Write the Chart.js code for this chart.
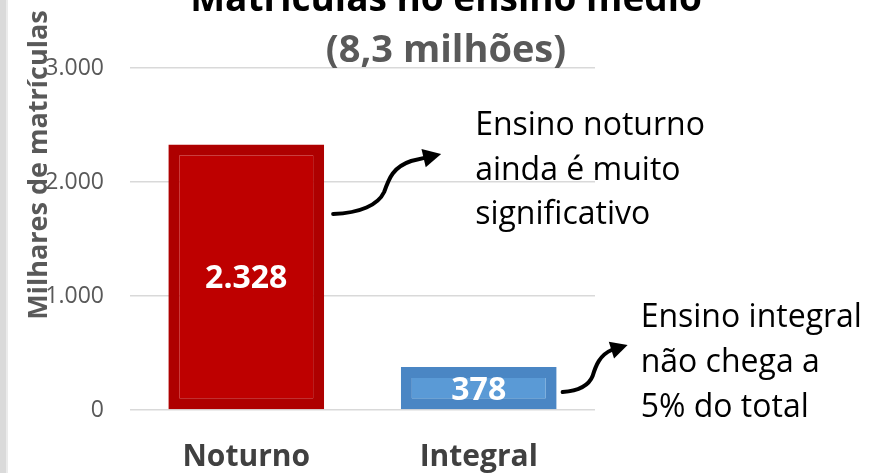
<!DOCTYPE html>
<html>
<head>
<meta charset="utf-8">
<script src="https://cdn.jsdelivr.net/npm/chart.js@4.4.0/dist/chart.umd.min.js"></script>
<style>
  html, body { margin: 0; padding: 0; background: #fff; }
  #wrap { width: 872px; height: 473px; }
</style>
</head>
<body>
<div id="wrap"><canvas id="myChart" width="872" height="473"></canvas></div>
<script>
// Data (milhares de matrículas)
var categories = ['Noturno', 'Integral'];
var values = [2328, 378];
var barColors = ['#BE0000', '#5A9AD6'];
var barBorders = ['#AE0000', '#4A86C4'];
var yTicks = [0, 1000, 2000, 3000];
var titleText = 'Matrículas no ensino médio';
var subtitleText = '(8,3 milhões)';
var yTitleText = 'Milhares de matrículas';
var noteNoturno = ['Ensino noturno', 'ainda é muito', 'significativo'];
var noteIntegral = ['Ensino integral', 'não chega a', '5% do total'];

var FONT = "'Open Sans', sans-serif";

// 2328 -> "2.328"
function fmt(v) {
    return String(v).replace(/\B(?=(\d{3})+(?!\d))/g, '.');
}

// curved arrow, points are offsets from (ox, oy)
function drawArrow(c, ox, oy, p) {
    c.save();
    c.strokeStyle = '#000';
    c.fillStyle = '#000';
    c.lineWidth = 4;
    c.lineCap = 'round';
    var tip = p.tip, from = p.seg2[2];
    var dx = tip[0] - from[0], dy = tip[1] - from[1];
    var len = Math.sqrt(dx * dx + dy * dy);
    var ux = dx / len, uy = dy / len;
    var L = p.head, W = p.head * 0.52;
    var bx = tip[0] - ux * L, by = tip[1] - uy * L;
    c.beginPath();
    c.moveTo(ox + p.start[0], oy + p.start[1]);
    c.bezierCurveTo(ox + p.seg1[0][0], oy + p.seg1[0][1], ox + p.seg1[1][0], oy + p.seg1[1][1], ox + p.seg1[2][0], oy + p.seg1[2][1]);
    c.bezierCurveTo(ox + p.seg2[0][0], oy + p.seg2[0][1], ox + p.seg2[1][0], oy + p.seg2[1][1], ox + p.seg2[2][0], oy + p.seg2[2][1]);
    c.lineTo(ox + bx + ux * 2, oy + by + uy * 2);
    c.stroke();
    c.beginPath();
    c.moveTo(ox + tip[0], oy + tip[1]);
    c.lineTo(ox + bx - uy * W, oy + by + ux * W);
    c.lineTo(ox + bx + uy * W, oy + by - ux * W);
    c.closePath();
    c.fill();
    c.restore();
}

var arrowNoturno = { start: [9, 146], seg1: [[36, 145], [54, 137], [60, 124]], seg2: [[65, 110], [69, 99], [87, 93]], tip: [117, 86], head: 18 };
var arrowIntegral = { start: [6, 324], seg1: [[20, 323], [32, 318], [36, 308]], seg2: [[39, 298], [43, 287], [55, 282]], tip: [71, 277], head: 17 };

var decor = {
    id: 'decor',
    beforeDraw: function(chart) {
        var c = chart.ctx;
        c.save();
        c.fillStyle = '#fff';
        c.fillRect(0, 0, chart.width, chart.height);
        c.fillStyle = '#DADADA';
        c.fillRect(0, 0, 6, chart.height);
        c.fillStyle = '#EBEBEB';
        c.fillRect(6, 0, 2, chart.height);
        c.restore();
    },
    afterDatasetsDraw: function(chart) {
        // value labels inside bars
        var c = chart.ctx;
        var meta = chart.getDatasetMeta(0);
        c.save();
        c.fillStyle = '#fff';
        c.font = 'bold 32px ' + FONT;
        c.textAlign = 'center';
        c.textBaseline = 'alphabetic';
        meta.data.forEach(function(bar, i) {
            var cy = (bar.y + bar.base) / 2;
            c.fillText(fmt(values[i]), bar.x, cy + 32 * 0.357);
        });
        c.restore();
    },
    afterDraw: function(chart) {
        var c = chart.ctx;
        var area = chart.chartArea;
        var meta = chart.getDatasetMeta(0);
        c.save();
        c.textBaseline = 'alphabetic';

        // title (cut off at the top like the source picture)
        c.textAlign = 'center';
        c.fillStyle = '#000';
        c.font = 'bold 37px ' + FONT;
        c.fillText(titleText, 446, 11);
        c.fillStyle = '#595959';
        c.font = 'bold 38px ' + FONT;
        c.fillText(subtitleText, 446, 62);

        // y axis title
        c.save();
        c.translate(47, 165);
        c.rotate(-Math.PI / 2);
        c.font = 'bold 27px ' + FONT;
        c.fillStyle = '#595959';
        c.fillText(yTitleText, 0, 0);
        c.restore();

        // arrows + notes next to each bar
        var b0 = meta.data[0], b1 = meta.data[1];
        var ox0 = b0.x + b0.width / 2, ox1 = b1.x + b1.width / 2;
        drawArrow(c, ox0, area.top, arrowNoturno);
        drawArrow(c, ox1, area.top, arrowIntegral);

        c.textAlign = 'left';
        c.fillStyle = '#000';
        c.font = '32px ' + FONT;
        noteNoturno.forEach(function(t, i) {
            c.fillText(t, ox0 + 151, area.top + 67 + i * 44.5);
        });
        noteIntegral.forEach(function(t, i) {
            c.fillText(t, ox1 + 84, area.top + 259 + i * 45);
        });
        c.restore();
    }
};

var ctx = document.getElementById('myChart').getContext('2d');
var myChart = new Chart(ctx, {
    type: 'bar',
    data: {
        labels: categories,
        datasets: [{
            data: values,
            backgroundColor: barColors,
            borderColor: barBorders,
            borderWidth: 11,
            borderSkipped: false,
            categoryPercentage: 1,
            barPercentage: 0.67
        }]
    },
    options: {
        responsive: false,
        animation: false,
        devicePixelRatio: 1,
        layout: {
            padding: { left: 0, right: 277, top: 68, bottom: 0 }
        },
        plugins: {
            legend: { display: false },
            tooltip: { enabled: false }
        },
        scales: {
            x: {
                grid: { display: false },
                border: { display: false },
                ticks: {
                    color: '#404040',
                    padding: 21,
                    font: { family: FONT, size: 30, weight: 'bold' }
                },
                afterFit: function(scale) { scale.height = 63; }
            },
            y: {
                min: 0,
                max: 3000,
                afterBuildTicks: function(scale) {
                    scale.ticks = yTicks.map(function(v) { return { value: v }; });
                },
                grid: { color: '#D9D9D9', lineWidth: 1.5, drawTicks: false },
                border: { display: false },
                ticks: {
                    color: '#595959',
                    padding: 26,
                    font: { family: FONT, size: 23 },
                    callback: function(value) { return fmt(value); }
                },
                afterFit: function(scale) { scale.width = 130; }
            }
        }
    },
    plugins: [decor]
});
</script>
</body>
</html>
